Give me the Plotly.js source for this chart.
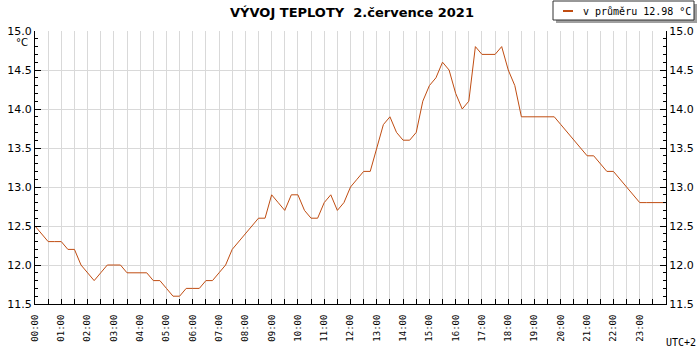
<!DOCTYPE html>
<html>
<head>
<meta charset="utf-8">
<script src="https://cdn.plot.ly/plotly-3.0.1.min.js"></script>
<style>html,body{margin:0;padding:0;background:#fff;}#chart{width:700px;height:350px;}</style>
</head>
<body>
<div id="chart"></div>
<script>
// ---- data ----
const times = [
 "00:00","00:15","00:30","00:45","01:00","01:15","01:30","01:45",
 "02:00","02:15","02:30","02:45","03:00","03:15","03:30","03:45",
 "04:00","04:15","04:30","04:45","05:00","05:15","05:30","05:45",
 "06:00","06:15","06:30","06:45","07:00","07:15","07:30","07:45",
 "08:00","08:15","08:30","08:45","09:00","09:15","09:30","09:45",
 "10:00","10:15","10:30","10:45","11:00","11:15","11:30","11:45",
 "12:00","12:15","12:30","12:45","13:00","13:15","13:30","13:45",
 "14:00","14:15","14:30","14:45","15:00","15:15","15:30","15:45",
 "16:00","16:15","16:30","16:45","17:00","17:15","17:30","17:45",
 "18:00","18:15","18:30","18:45","19:00","19:15","19:30","19:45",
 "20:00","20:15","20:30","20:45","21:00","21:15","21:30","21:45",
 "22:00","22:15","22:30","22:45","23:00","23:15","23:30","23:45",
 "24:00"
];
const temps = [
 12.5,12.4,12.3,12.3,12.3,12.2,12.2,12.0,
 11.9,11.8,11.9,12.0,12.0,12.0,11.9,11.9,
 11.9,11.9,11.8,11.8,11.7,11.6,11.6,11.7,
 11.7,11.7,11.8,11.8,11.9,12.0,12.2,12.3,
 12.4,12.5,12.6,12.6,12.9,12.8,12.7,12.9,
 12.9,12.7,12.6,12.6,12.8,12.9,12.7,12.8,
 13.0,13.1,13.2,13.2,13.5,13.8,13.9,13.7,
 13.6,13.6,13.7,14.1,14.3,14.4,14.6,14.5,
 14.2,14.0,14.1,14.8,14.7,14.7,14.7,14.8,
 14.5,14.3,13.9,13.9,13.9,13.9,13.9,13.9,
 13.8,13.7,13.6,13.5,13.4,13.4,13.3,13.2,
 13.2,13.1,13.0,12.9,12.8,12.8,12.8,12.8,
 12.8
];
const hourLabels = [
 "00:00","01:00","02:00","03:00","04:00","05:00","06:00","07:00",
 "08:00","09:00","10:00","11:00","12:00","13:00","14:00","15:00",
 "16:00","17:00","18:00","19:00","20:00","21:00","22:00","23:00"
];
const titleText = "VÝVOJ TEPLOTY\u00a0 2.července 2021";
const legendText = "v průměru 12.98 °C";
const unitText = "°C";
const tzText = "UTC+2";

// ---- helpers ----
const toHours = s => { const p = s.split(':').map(Number); return p[0] + p[1] / 60; };
const xs = times.map(toHours);
const tickVals = [], tickText = [];
hourLabels.forEach(lbl => {
  const h = toHours(lbl);
  tickVals.push(h); tickText.push(lbl);
  tickVals.push(h + 0.5); tickText.push('');
});

const LINE = '#c04d12';
const GRID = '#d9d9d9';
const W = 700, H = 350, ML = 35, MR = 34, MT = 31, MB = 46;
const PW = W - ML - MR, PH = H - MT - MB;
const px = x => (x - ML) / PW;          // pixel -> paper x
const py = y => (H - MB - y) / PH;      // pixel -> paper y

const traces = [
  {x: xs, y: temps, type: 'scatter', mode: 'lines',
   line: {color: LINE, width: 1}, hoverinfo: 'skip', showlegend: false},
  {x: xs, y: temps, type: 'scatter', mode: 'lines', yaxis: 'y2',
   opacity: 0, line: {color: LINE, width: 1}, hoverinfo: 'skip', showlegend: false}
];

const yCommon = {
  range: [11.5, 15], tick0: 11.5, dtick: 0.5, tickformat: '.1f',
  ticks: 'inside', ticklen: 6, tickcolor: '#000', tickwidth: 1,
  minor: {dtick: 0.1, ticks: 'inside', ticklen: 3, tickcolor: '#000', showgrid: false},
  showline: true, linecolor: '#000', linewidth: 1,
  zeroline: false, fixedrange: true,
  tickfont: {family: 'DejaVu Sans', size: 11, color: '#000'}
};

const layout = {
  width: W, height: H,
  margin: {l: ML, r: MR, t: MT, b: MB, pad: 0},
  paper_bgcolor: '#fff', plot_bgcolor: '#fff',
  showlegend: false,
  title: {text: '<b>' + titleText + '</b>', xref: 'container', yref: 'container',
          x: 352 / W, xanchor: 'center', y: 1 - 12 / H, yanchor: 'middle',
          font: {family: 'DejaVu Sans', size: 13, color: '#000'}},
  xaxis: {
    range: [0, 24], tickmode: 'array', tickvals: tickVals, ticktext: tickText,
    ticks: 'inside', ticklen: 5, tickcolor: '#000', tickwidth: 1,
    showline: true, linecolor: '#000', linewidth: 1,
    showgrid: true, gridcolor: GRID, gridwidth: 1,
    zeroline: false, fixedrange: true, tickangle: -90, ticklabelstandoff: 6,
    tickfont: {family: 'DejaVu Sans Mono', size: 9, color: '#000'}
  },
  yaxis: Object.assign({}, yCommon, {showgrid: true, gridcolor: GRID, gridwidth: 1}),
  yaxis2: Object.assign({}, yCommon, {overlaying: 'y', side: 'right', showgrid: false}),
  shapes: [
    {type: 'rect', xref: 'paper', yref: 'paper', x0: px(556), x1: px(697), y0: py(23), y1: py(4),
     fillcolor: '#a0a0a0', line: {width: 0}, layer: 'above'},
    {type: 'rect', xref: 'paper', yref: 'paper', x0: px(553), x1: px(694), y0: py(20), y1: py(1),
     fillcolor: '#fff', line: {color: '#303030', width: 1}, layer: 'above'},
    {type: 'line', xref: 'paper', yref: 'paper', x0: px(563), x1: px(573), y0: py(11), y1: py(11),
     line: {color: LINE, width: 2}, layer: 'above'}
  ],
  annotations: [
    {text: legendText, xref: 'paper', yref: 'paper', x: px(581), y: py(11),
     xanchor: 'left', yanchor: 'middle', showarrow: false,
     font: {family: 'DejaVu Sans Mono', size: 10, color: '#000'}},
    {text: unitText, xref: 'paper', yref: 'paper', x: px(22), y: py(43),
     xanchor: 'center', yanchor: 'middle', showarrow: false,
     font: {family: 'DejaVu Sans', size: 10, color: '#000'}},
    {text: tzText, xref: 'paper', yref: 'paper', x: px(681), y: py(342),
     xanchor: 'center', yanchor: 'middle', showarrow: false,
     font: {family: 'DejaVu Sans Mono', size: 10, color: '#000'}}
  ]
};

Plotly.newPlot('chart', traces, layout, {staticPlot: true, displayModeBar: false});
</script>
</body>
</html>
